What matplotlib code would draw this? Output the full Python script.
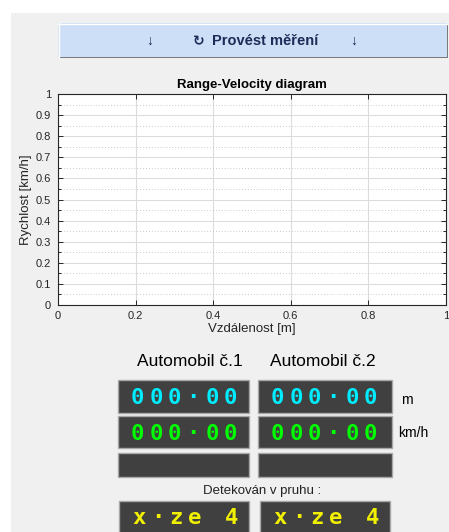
import matplotlib
matplotlib.use("Agg")
import matplotlib.pyplot as plt
from matplotlib.patches import Rectangle
import numpy as np

# ---------------- data ----------------
x_ticks = [0, 0.2, 0.4, 0.6, 0.8, 1]
x_tick_labels = ["0", "0.2", "0.4", "0.6", "0.8", "1"]
y_ticks = [0, 0.1, 0.2, 0.3, 0.4, 0.5, 0.6, 0.7, 0.8, 0.9, 1]
y_tick_labels = ["0", "0.1", "0.2", "0.3", "0.4", "0.5", "0.6", "0.7", "0.8", "0.9", "1"]
y_minor_ticks = [0.05, 0.15, 0.25, 0.35, 0.45, 0.55, 0.65, 0.75, 0.85, 0.95]
car1_range = []      # no measurement yet
car1_velocity = []
car2_range = []
car2_velocity = []
title = "Range-Velocity diagram"
x_label = "Vzdálenost [m]"
y_label = "Rychlost [km/h]"
button_label = "Provést měření"
car_labels = ["Automobil č.1", "Automobil č.2"]
distance_display = ["000·00", "000·00"]
speed_display = ["000·00", "000·00"]
lane_display = ["x·ze 4", "x·ze 4"]
unit_labels = ["m", "km/h"]
lane_caption = "Detekován v pruhu :"

W, H = 449, 532
fig = plt.figure(figsize=(W / 100, H / 100), dpi=100)
fig.patch.set_facecolor("white")

# overlay in pixel coordinates for GUI elements
ov = fig.add_axes([0, 0, 1, 1])
ov.set_xlim(0, W)
ov.set_ylim(H, 0)
ov.axis("off")

SANS = ["Liberation Sans", "DejaVu Sans"]

# gray panel
ov.add_patch(Rectangle((11, 13), W - 11, H - 13, facecolor="#f0f0f0", edgecolor="none", zorder=0))

# button
bx0, by0, bx1, by1 = 58, 23, 447, 57
ov.add_patch(Rectangle((bx0 + 1, by0 + 1), bx1 - bx0, by1 - by0, facecolor="#7a7a7a", edgecolor="none", zorder=1))
ov.add_patch(Rectangle((bx0, by0), bx1 - bx0, by1 - by0, facecolor="#cddff6", edgecolor="none", zorder=2))
ov.plot([bx0, bx1], [by0 + 0.5, by0 + 0.5], color="white", lw=1, zorder=3)
ov.plot([bx0 + 0.5, bx0 + 0.5], [by0, by1], color="white", lw=1, zorder=3)
navy = "#1c2b57"
ov.text(150, 41, "↓", ha="center", va="center", fontsize=10, fontweight="bold", color=navy, family=SANS, zorder=4)
ov.text(354, 41, "↓", ha="center", va="center", fontsize=10, fontweight="bold", color=navy, family=SANS, zorder=4)
ov.text(199, 41, "↻", ha="center", va="center", fontsize=10, fontweight="bold", color=navy, family=["DejaVu Sans"], zorder=4)
ov.text(212, 41, button_label, ha="left", va="center", fontsize=10.5, fontweight="bold", color=navy, family=SANS, zorder=4)

# plot axes
ax_l, ax_r, ax_t, ax_b = 58, 446, 94, 305
ax = fig.add_axes([ax_l / W, 1 - ax_b / H, (ax_r - ax_l) / W, (ax_b - ax_t) / H])
ax.set_facecolor("white")
ax.plot(car1_range, car1_velocity, color="#0072bd", marker="o", ls="none")
ax.plot(car2_range, car2_velocity, color="#d95319", marker="o", ls="none")
ax.set_xlim(0, 1)
ax.set_ylim(0, 1)
ax.set_xticks(x_ticks)
ax.set_xticklabels(x_tick_labels)
ax.set_yticks(y_ticks)
ax.set_yticklabels(y_tick_labels)
ax.set_yticks(y_minor_ticks, minor=True)
ax.grid(True, which="major", color="#dcdcdc", lw=0.8, ls="-")
ax.grid(True, which="minor", axis="y", color="#b8b8b8", lw=0.6, ls=(0, (1, 2.5)))
ax.set_axisbelow(True)
ax.tick_params(which="both", direction="in", top=True, right=True, colors="#262626",
               labelsize=8, labelcolor="#262626", width=0.7)
ax.tick_params(which="major", length=3.5)
ax.tick_params(axis="y", which="major", pad=5)
ax.tick_params(axis="x", which="major", pad=4)
ax.tick_params(which="minor", length=2)
for lab in ax.get_xticklabels() + ax.get_yticklabels():
    lab.set_family(SANS)
for s in ax.spines.values():
    s.set_color("#262626")
    s.set_linewidth(0.8)
ax.set_title(title, fontsize=9.5, fontweight="bold", family=SANS, pad=4, color="black")
ax.set_xlabel(x_label, fontsize=9.5, family=SANS, labelpad=2, color="#262626")
ax.set_ylabel(y_label, fontsize=9.5, family=SANS, labelpad=3, color="#262626")

# car labels
car_cx = [190, 323]
for cx, lab in zip(car_cx, car_labels):
    ov.text(cx, 362, lab, ha="center", va="center", fontsize=12.5, family=SANS, color="black")

# display boxes
box_x = [(118, 249), (258, 392)]
rows = [(380, 413), (416, 448), (453, 477)]
def box(x0, x1, y0, y1):
    ov.add_patch(Rectangle((x0, y0), x1 - x0, y1 - y0, facecolor="#404040",
                           edgecolor="#a8a8a8", lw=1, zorder=2))

for (x0, x1) in box_x:
    for (y0, y1) in rows:
        box(x0, x1, y0, y1)

pitch = 18.6
def seg_text(s, cx0, baseline, color):
    for i, ch in enumerate(s):
        ov.text(cx0 + i * pitch, baseline, ch, ha="center", va="baseline", fontsize=16,
                fontweight="bold", family=["DejaVu Sans Mono"], color=color, zorder=5)

first_char = [137.5, 277.5]
for k in range(2):
    seg_text(distance_display[k], first_char[k], 404, "#00ecff")
    seg_text(speed_display[k], first_char[k], 440, "#00ff00")

ov.text(401, 400, unit_labels[0], ha="left", va="center", fontsize=10, family=SANS, color="black")
ov.text(398, 433, unit_labels[1], ha="left", va="center", fontsize=10, family=SANS, color="black")

ov.text(262, 491, lane_caption, ha="center", va="center", fontsize=9.5, family=SANS, color="#222222")

lane_x = [(119, 249), (260, 390)]
for (x0, x1) in lane_x:
    box(x0, x1, 501, 540)
lane_first = [139, 280]
for k in range(2):
    seg_text(lane_display[k], lane_first[k], 524, "#f0f000")

fig.savefig("out.png", dpi=100, facecolor=fig.get_facecolor())
